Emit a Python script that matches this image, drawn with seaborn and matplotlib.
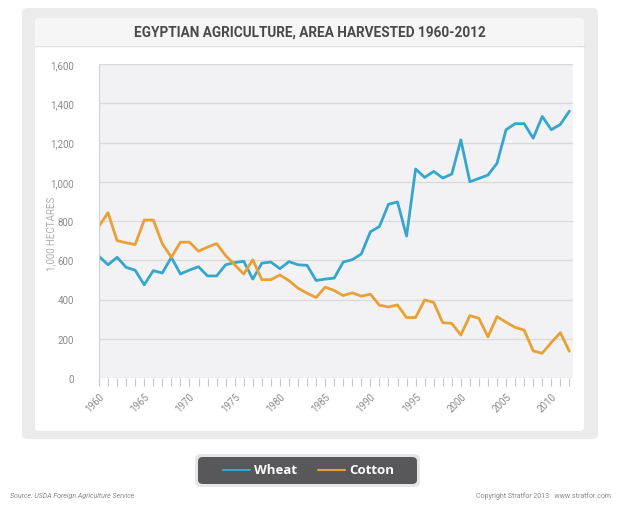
import matplotlib
matplotlib.use("Agg")
import matplotlib.pyplot as plt
from matplotlib.patches import FancyBboxPatch
from matplotlib.lines import Line2D
from matplotlib.ticker import MultipleLocator, FuncFormatter
import seaborn as sns
import pandas as pd

years = list(range(1960, 2013))
wheat = [620, 577, 615, 564, 549, 475, 547, 535, 615, 530,
         550, 567, 520, 520, 577, 588, 595, 504, 585, 591,
         557, 593, 577, 574, 497, 504, 509, 591, 603, 632,
         745, 772, 885, 897, 723, 1065, 1022, 1053, 1019, 1039,
         1213, 1000, 1017, 1034, 1094, 1265, 1296, 1296, 1222, 1333,
         1265, 1292, 1360]
cotton = [774, 842, 700, 689, 680, 805, 805, 684, 615, 692,
          692, 646, 667, 685, 624, 577, 530, 602, 501, 501,
          525, 496, 458, 432, 410, 463, 446, 420, 434, 417,
          427, 371, 362, 372, 308, 308, 398, 385, 282, 278,
          219, 318, 304, 210, 313, 284, 258, 244, 138, 126,
          181, 231, 136]
series_names = ["Wheat", "Cotton"]
colors = ["#35a6cc", "#e9a036"]
yticks = [0, 200, 400, 600, 800, 1000, 1200, 1400, 1600]
title = "EGYPTIAN AGRICULTURE, AREA HARVESTED 1960-2012"
ylabel = "1,000 HECTARES"
source = "Source: USDA Foreign Agriculture Service"
copyright_txt = "Copyright Stratfor 2013   www.stratfor.com"

df = pd.DataFrame({
    "Year": years * 2,
    "Value": wheat + cotton,
    "Crop": ["Wheat"] * len(years) + ["Cotton"] * len(years),
})

sns.set_theme(style="white")
plt.rcParams["font.family"] = ["Roboto", "DejaVu Sans"]

W, H = 620, 506
fig = plt.figure(figsize=(W / 100, H / 100), dpi=100)
fig.patch.set_facecolor("white")

def box(x0, y0, x1, y1, fc, ec="none", r=4, lw=0, z=0):
    p = FancyBboxPatch((x0 / W, 1 - y1 / H), (x1 - x0) / W, (y1 - y0) / H,
                       boxstyle=f"round,pad=0,rounding_size={r / W}",
                       transform=fig.transFigure, fc=fc, ec=ec, lw=lw, zorder=z)
    fig.patches.append(p)

box(22, 9, 598, 440, "#ebebeb", r=6, z=-3)
box(35, 19, 584, 432, "#ffffff", r=5, z=-2)
box(35, 19, 584, 47, "#f6f6f6", r=5, z=-1)
fig.add_artist(Line2D([35 / W, 584 / W], [1 - 47 / H] * 2, color="#dedede", lw=1,
                      transform=fig.transFigure, zorder=-1))

ax = fig.add_axes([99 / W, 1 - 379 / H, (573 - 99) / W, (379 - 65) / H])
ax.set_zorder(5)
ax.set_facecolor("#f2f2f4")
sns.lineplot(data=df, x="Year", y="Value", hue="Crop", hue_order=series_names,
             palette=colors, linewidth=2.0, ax=ax, legend=False)
ax.set_xlim(1960, 2012.4)
ax.set_ylim(0, 1600)
ax.set_yticks(yticks)
ax.yaxis.set_major_formatter(FuncFormatter(lambda v, p: f"{int(v):,}"))
ax.grid(axis="y", color="#dadada", lw=0.9)
ax.grid(axis="x", visible=False)
ax.set_axisbelow(True)
for s in ["top", "right", "bottom"]:
    ax.spines[s].set_visible(False)
ax.spines["left"].set_color("#d0d0d0")
ax.spines["left"].set_linewidth(0.8)
ax.axhline(0, color="#d0d0d0", lw=0.8, zorder=1)
ax.xaxis.set_major_locator(MultipleLocator(5))
ax.xaxis.set_minor_locator(MultipleLocator(1))
ax.tick_params(axis="x", which="both", bottom=True, length=6, width=0.8,
               color="#c8c8c8", direction="out", labelsize=7, labelcolor="#8a8a8a", pad=3)
ax.tick_params(axis="y", left=False, labelsize=7, labelcolor="#8a8a8a", pad=12)
for lab in ax.get_xticklabels():
    lab.set_rotation(45)
    lab.set_ha("right")
    lab.set_va("top")
    lab.set_rotation_mode("anchor")
ax.set_xlabel("")
ax.set_ylabel("")

fig.text(310 / W, 1 - 33 / H, title, ha="center", va="center", fontsize=9.8,
         fontweight="bold", color="#4a4a4a")
fig.text(51 / W, 1 - 234 / H, ylabel, ha="center", va="center", rotation=90,
         fontsize=7, color="#b0b0b0")

# legend box
box(195, 455, 420, 488, "#e6e6e6", r=6, z=2)
box(198, 458, 417, 485, "#58585a", r=5, z=3)
fig.add_artist(Line2D([223 / W, 250 / W], [1 - 471 / H] * 2, color=colors[0], lw=1.5,
                      transform=fig.transFigure, zorder=4))
fig.text(254 / W, 1 - 471 / H, series_names[0], ha="left", va="center", fontsize=9.5,
         fontweight="bold", color="white", zorder=5, family=["Open Sans", "DejaVu Sans"])
fig.add_artist(Line2D([318 / W, 345 / W], [1 - 471 / H] * 2, color=colors[1], lw=1.5,
                      transform=fig.transFigure, zorder=4))
fig.text(349 / W, 1 - 471 / H, series_names[1], ha="left", va="center", fontsize=9.5,
         fontweight="bold", color="white", zorder=5, family=["Open Sans", "DejaVu Sans"])

fig.text(10 / W, 1 - 496 / H, source, ha="left", va="center", fontsize=5,
         style="italic", color="#8a8a8a")
fig.text(611 / W, 1 - 496 / H, copyright_txt, ha="right", va="center", fontsize=5,
         color="#8a8a8a")

fig.savefig("out.png", dpi=100, facecolor="white")
